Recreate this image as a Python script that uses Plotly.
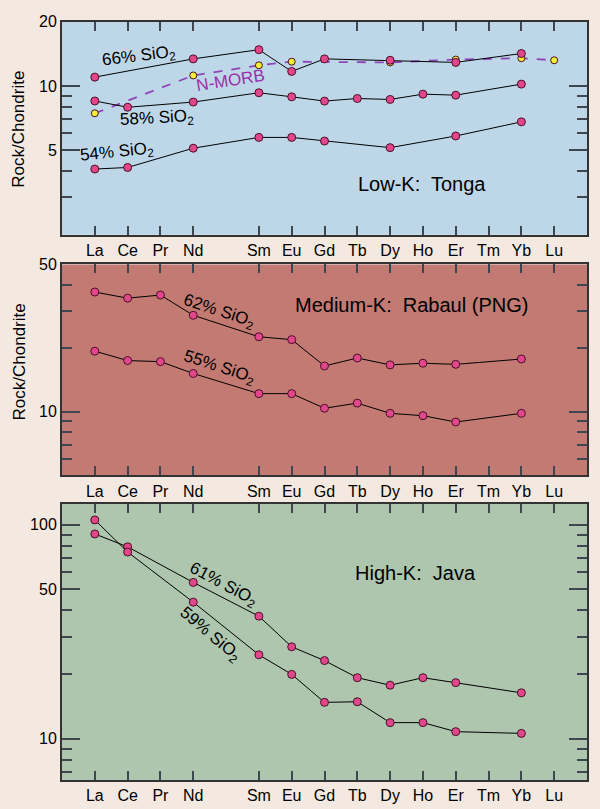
import plotly.graph_objects as go
import math

# ---------------- data ----------------
REE_ORDER = ["La", "Ce", "Pr", "Nd", "Pm", "Sm", "Eu", "Gd", "Tb", "Dy", "Ho", "Er", "Tm", "Yb", "Lu"]
TICK_ELEMENTS = ["La", "Ce", "Pr", "Nd", "Sm", "Eu", "Gd", "Tb", "Dy", "Ho", "Er", "Tm", "Yb", "Lu"]

# Low-K: Tonga
tonga_66_el = ["La", "Nd", "Sm", "Eu", "Gd", "Dy", "Er", "Yb"]
tonga_66 = [11.0, 13.4, 14.8, 11.7, 13.4, 13.2, 12.9, 14.2]
tonga_58_el = ["La", "Ce", "Nd", "Sm", "Eu", "Gd", "Tb", "Dy", "Ho", "Er", "Yb"]
tonga_58 = [8.5, 7.94, 8.4, 9.29, 8.89, 8.49, 8.73, 8.64, 9.15, 9.05, 10.2]
tonga_54_el = ["La", "Ce", "Nd", "Sm", "Eu", "Gd", "Dy", "Er", "Yb"]
tonga_54 = [4.07, 4.14, 5.1, 5.73, 5.73, 5.51, 5.13, 5.82, 6.78]
nmorb_el = ["La", "Nd", "Sm", "Eu", "Dy", "Er", "Yb", "Lu"]
nmorb = [7.44, 11.2, 12.5, 13.0, 12.9, 13.3, 13.5, 13.2]

# Medium-K: Rabaul (PNG)
rabaul_el = ["La", "Ce", "Pr", "Nd", "Sm", "Eu", "Gd", "Tb", "Dy", "Ho", "Er", "Yb"]
rabaul_62 = [37.0, 34.6, 35.8, 28.7, 22.7, 22.0, 16.5, 18.0, 16.7, 17.0, 16.8, 17.8]
rabaul_55 = [19.4, 17.5, 17.3, 15.2, 12.2, 12.2, 10.4, 11.0, 9.84, 9.59, 8.95, 9.84]

# High-K: Java
java_el = ["La", "Ce", "Nd", "Sm", "Eu", "Gd", "Tb", "Dy", "Ho", "Er", "Yb"]
java_61 = [90.6, 78.9, 53.8, 37.4, 26.9, 23.2, 19.3, 17.8, 19.3, 18.3, 16.4]
java_59 = [105.4, 74.6, 43.5, 24.7, 20.0, 14.8, 14.9, 11.9, 11.9, 10.8, 10.6]

# ---------------- style ----------------
W, H = 600, 809
FONT = "Liberation Sans, Arial, Helvetica, sans-serif"
PAGE_BG = "#F4E9E1"
BG1, BG2, BG3 = "#BED7E8", "#C27A72", "#ADC6AD"
PINK = "#E2478C"
YELLOW = "#F2EE35"
PURPLE_LINE = "#8F45B8"
PURPLE_TEXT = "#9A2FA8"
FRAME = "#333333"
TICKC = "#3E4650"

def xs(els):
    return [REE_ORDER.index(e) for e in els]

def px(x, y):
    return x / W, 1 - y / H

fig = go.Figure()

def add_series(els, vals, ax, marker_color=PINK, line=dict(color="black", width=1), msize=8):
    fig.add_trace(go.Scatter(
        x=xs(els), y=vals, mode="lines+markers",
        line=line,
        marker=dict(size=msize, color=marker_color, line=dict(color="#4A1028", width=1)),
        xaxis="x" + ax, yaxis="y" + ax, showlegend=False, hoverinfo="skip"))

# Panel 1
add_series(nmorb_el, nmorb, "", YELLOW, dict(color=PURPLE_LINE, width=1.8, dash="dash"), 7)
add_series(tonga_66_el, tonga_66, "")
add_series(tonga_58_el, tonga_58, "")
add_series(tonga_54_el, tonga_54, "")
# Panel 2
add_series(rabaul_el, rabaul_62, "2")
add_series(rabaul_el, rabaul_55, "2")
# Panel 3
add_series(java_el, java_61, "3")
add_series(java_el, java_59, "3")

x_left, x_right = 62 / W, 587 / W
panels = [
    # (top px, bottom px, range lo, range hi, major ticks, minor ticks, bg)
    (14, 229, 2, 20, [5, 10, 20], [3, 4, 6, 7, 8, 9], BG1),
    (259, 472, 5, 50, [10, 50], [6, 7, 8, 9, 20, 30, 40], BG2),
    (501, 780, 6.4, 125, [10, 50, 100], [7, 8, 9, 20, 30, 40, 60, 70, 80, 90], BG3),
]

layout = dict(
    width=W, height=H,
    margin=dict(l=0, r=0, t=0, b=0),
    paper_bgcolor=PAGE_BG,
    font=dict(family=FONT, size=16, color="black"),
    showlegend=False,
)

tickpos = xs(TICK_ELEMENTS)
shapes = []
for i, (top, bot, lo, hi, major, minor, bg) in enumerate(panels):
    suf = "" if i == 0 else str(i + 1)
    ydom = [1 - bot / H, 1 - top / H]
    layout["xaxis" + suf] = dict(
        domain=[x_left, x_right], anchor="y" + suf, range=[-1, 15],
        tickmode="array", tickvals=tickpos, ticktext=TICK_ELEMENTS,
        ticks="inside", ticklen=9, tickwidth=1.5, tickcolor=TICKC,
        showline=True, linecolor=FRAME, linewidth=2, mirror="ticks",
        showgrid=False, zeroline=False, fixedrange=True,
        tickfont=dict(size=16, family=FONT, color="black"),
    )
    layout["yaxis" + suf] = dict(
        domain=ydom, anchor="x" + suf, type="log",
        range=[math.log10(lo), math.log10(hi)],
        tickmode="array", tickvals=major, ticktext=[str(v) for v in major],
        ticks="inside", ticklen=18, tickwidth=2, tickcolor=TICKC,
        minor=dict(tickmode="array", tickvals=minor, ticks="inside", ticklen=10,
                   tickwidth=2, tickcolor=TICKC, showgrid=False),
        showline=True, linecolor=FRAME, linewidth=2, mirror="ticks",
        showgrid=False, zeroline=False, fixedrange=True,
        tickfont=dict(size=16, family=FONT, color="black"),
    )
    shapes.append(dict(type="rect", xref="paper", yref="paper", layer="below",
                       x0=x_left, x1=x_right, y0=ydom[0], y1=ydom[1],
                       fillcolor=bg, line=dict(width=0)))
layout["shapes"] = shapes

ann = []
def label(text, x, y, angle=0, size=16, color="black"):
    ax, ay = px(x, y)
    ann.append(dict(text=text, x=ax, y=ay, xref="paper", yref="paper",
                    showarrow=False, textangle=angle, xanchor="center", yanchor="middle",
                    font=dict(size=size, color=color, family=FONT)))

SIO2 = "% SiO<sub>2</sub>"
# Panel 1
label("66" + SIO2, 139, 49, -7, 17)
label("58" + SIO2, 157, 112, -3, 17)
label("54" + SIO2, 117, 146, -6, 17)
label("N-MORB", 230, 73, -9, 17, PURPLE_TEXT)
label("Low-K:&nbsp; Tonga", 422, 178, 0, 20)
label("Rock/Chondrite", 19, 123, -90, 17)
# Panel 2
label("62" + SIO2, 219, 307, 18, 17)
label("55" + SIO2, 219, 364, 18, 17)
label("Medium-K:&nbsp; Rabaul (PNG)", 411, 300, 0, 20)
label("Rock/Chondrite", 19, 358, -90, 17)
# Panel 3
label("61" + SIO2, 223, 583, 28, 17)
label("59" + SIO2, 210, 633, 40, 17)
label("High-K:&nbsp; Java", 415, 571, 0, 20)
layout["annotations"] = ann

fig.update_layout(**layout)
fig.write_html(
    "out.html",
    config={"displayModeBar": False},
    post_script="document.body.style.margin='0';document.body.style.padding='0';"
                "document.body.style.overflow='hidden';"
                "document.documentElement.style.background='" + PAGE_BG + "';",
)
